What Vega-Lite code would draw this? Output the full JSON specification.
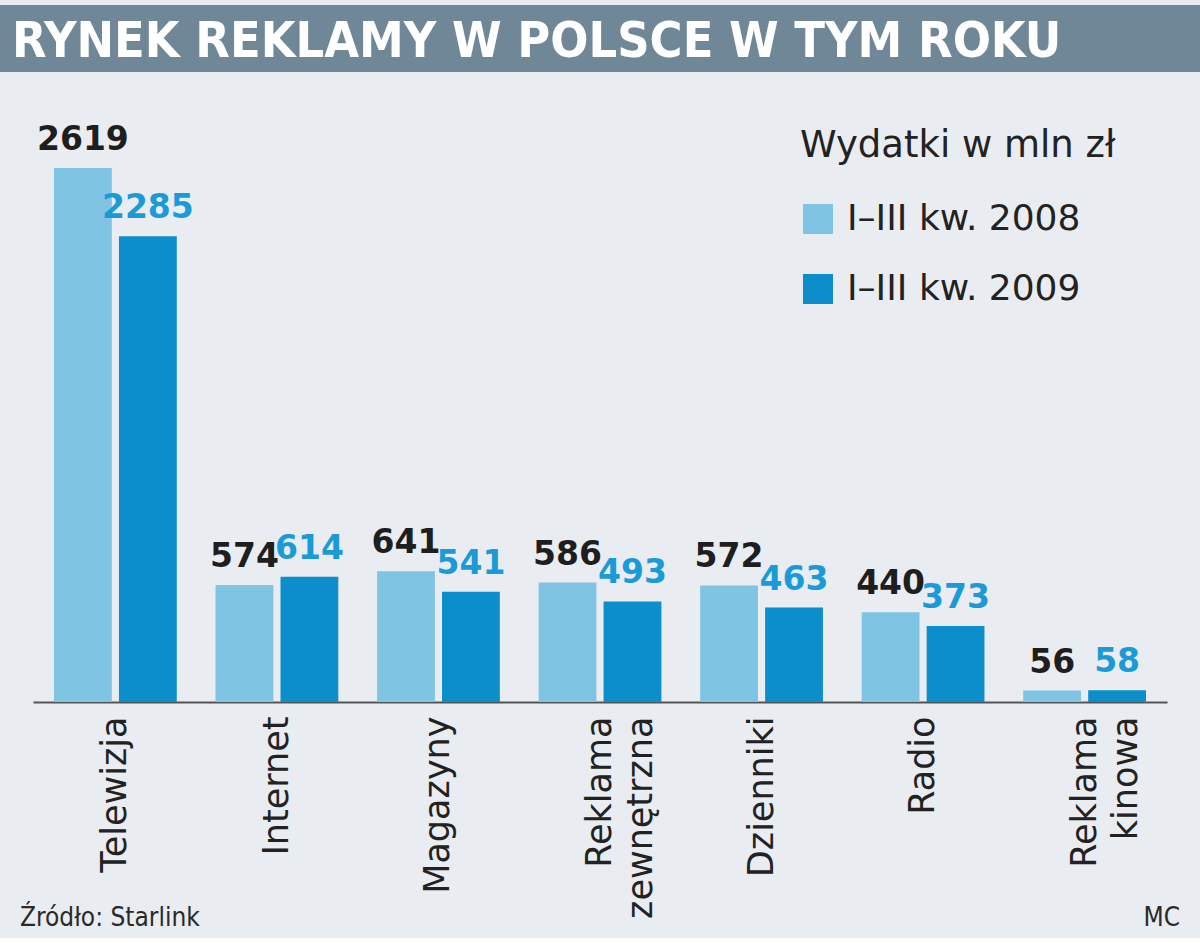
{
  "$schema": "https://vega.github.io/schema/vega-lite/v6.json",
  "background": "#e9ecf1",
  "padding": {"top": 5, "left": 0, "right": 0, "bottom": 0},
  "spacing": 0,
  "center": true,
  "bounds": "flush",
  "config": {"view": {"stroke": null}},
  "vconcat": [
    {
      "width": 1200,
      "height": 67,
      "view": {"fill": "#6f8797", "stroke": null},
      "data": {"values": [{"t": "RYNEK REKLAMY W POLSCE W TYM ROKU", "p": 0}]},
      "mark": {"type": "text", "align": "left", "baseline": "middle", "dx": 12, "dy": 3, "font": "DejaVu Sans Condensed", "fontWeight": "bold", "fontSize": 50, "color": "#ffffff"},
      "encoding": {
        "x": {"field": "p", "type": "quantitative", "scale": {"domain": [0, 1]}, "axis": null},
        "text": {"field": "t"}
      }
    },
    {
      "width": 1134,
      "height": 630,
      "data": {"values": [
        {"kategoria": "Telewizja", "okres": "I–III kw. 2008", "wartosc": 2619},
        {"kategoria": "Telewizja", "okres": "I–III kw. 2009", "wartosc": 2285},
        {"kategoria": "Internet", "okres": "I–III kw. 2008", "wartosc": 574},
        {"kategoria": "Internet", "okres": "I–III kw. 2009", "wartosc": 614},
        {"kategoria": "Magazyny", "okres": "I–III kw. 2008", "wartosc": 641},
        {"kategoria": "Magazyny", "okres": "I–III kw. 2009", "wartosc": 541},
        {"kategoria": "Reklama zewnętrzna", "okres": "I–III kw. 2008", "wartosc": 586},
        {"kategoria": "Reklama zewnętrzna", "okres": "I–III kw. 2009", "wartosc": 493},
        {"kategoria": "Dzienniki", "okres": "I–III kw. 2008", "wartosc": 572},
        {"kategoria": "Dzienniki", "okres": "I–III kw. 2009", "wartosc": 463},
        {"kategoria": "Radio", "okres": "I–III kw. 2008", "wartosc": 440},
        {"kategoria": "Radio", "okres": "I–III kw. 2009", "wartosc": 373},
        {"kategoria": "Reklama kinowa", "okres": "I–III kw. 2008", "wartosc": 56},
        {"kategoria": "Reklama kinowa", "okres": "I–III kw. 2009", "wartosc": 58}
      ]},
      "encoding": {
        "x": {
          "field": "kategoria", "type": "nominal",
          "sort": ["Telewizja", "Internet", "Magazyny", "Reklama zewnętrzna", "Dzienniki", "Radio", "Reklama kinowa"],
          "scale": {"paddingInner": 0.24, "paddingOuter": 0.13},
          "axis": {
            "title": null, "ticks": false, "labelAngle": -90, "labelPadding": 14,
            "labelFont": "DejaVu Sans", "labelFontSize": 35, "labelColor": "#222222",
            "labelLimit": 0, "labelLineHeight": 41, "labelExpr": "split(datum.value, ' ')",
            "domainColor": "#555555", "domainWidth": 2, "grid": false
          }
        },
        "xOffset": {"field": "okres", "type": "nominal", "scale": {"paddingInner": 0.11}},
        "y": {"field": "wartosc", "type": "quantitative", "scale": {"domain": [0, 3090]}, "axis": null}
      },
      "layer": [
        {
          "mark": {"type": "bar"},
          "encoding": {
            "color": {
              "field": "okres", "type": "nominal",
              "scale": {"range": ["#80c4e4", "#0b8ec9"]},
              "legend": {
                "orient": "none", "legendX": 800, "legendY": 123,
                "title": "Wydatki w mln zł", "titleLimit": 0,
                "titleFont": "DejaVu Sans", "titleFontSize": 37, "titleFontWeight": "normal", "titleColor": "#222222", "titlePadding": 36,
                "labelFont": "DejaVu Sans", "labelFontSize": 36, "labelColor": "#222222", "labelOffset": 11, "labelLimit": 0,
                "symbolType": "square", "symbolSize": 900, "symbolStrokeWidth": 0, "symbolOpacity": 1,
                "rowPadding": 34
              }
            }
          }
        },
        {
          "mark": {"type": "text", "baseline": "alphabetic", "dy": -18, "font": "DejaVu Sans", "fontWeight": "bold", "fontSize": 33},
          "encoding": {
            "text": {"field": "wartosc"},
            "color": {"condition": {"test": "datum.okres === 'I–III kw. 2008'", "value": "#1e1e1e"}, "value": "#1a9bd7"}
          }
        }
      ]
    },
    {
      "width": 1200,
      "height": 236,
      "data": {"values": [{"t": "Źródło: Starlink", "p": 0, "v": 0, "s": "l"}, {"t": "MC", "p": 1, "v": 0, "s": "r"}]},
      "encoding": {
        "x": {"field": "p", "type": "quantitative", "scale": {"domain": [0, 1]}, "axis": null},
        "y": {"field": "v", "type": "quantitative", "scale": {"domain": [0, 1]}, "axis": null},
        "text": {"field": "t"}
      },
      "layer": [
        {"transform": [{"filter": "datum.s === 'l'"}], "mark": {"type": "text", "align": "left", "baseline": "middle", "dx": 20, "dy": -20, "font": "DejaVu Sans Condensed", "fontSize": 26, "color": "#2a2a2a"}},
        {"transform": [{"filter": "datum.s === 'r'"}], "mark": {"type": "text", "align": "right", "baseline": "middle", "dx": -20, "dy": -20, "font": "DejaVu Sans Condensed", "fontSize": 26, "color": "#2a2a2a"}}
      ]
    }
  ]
}
